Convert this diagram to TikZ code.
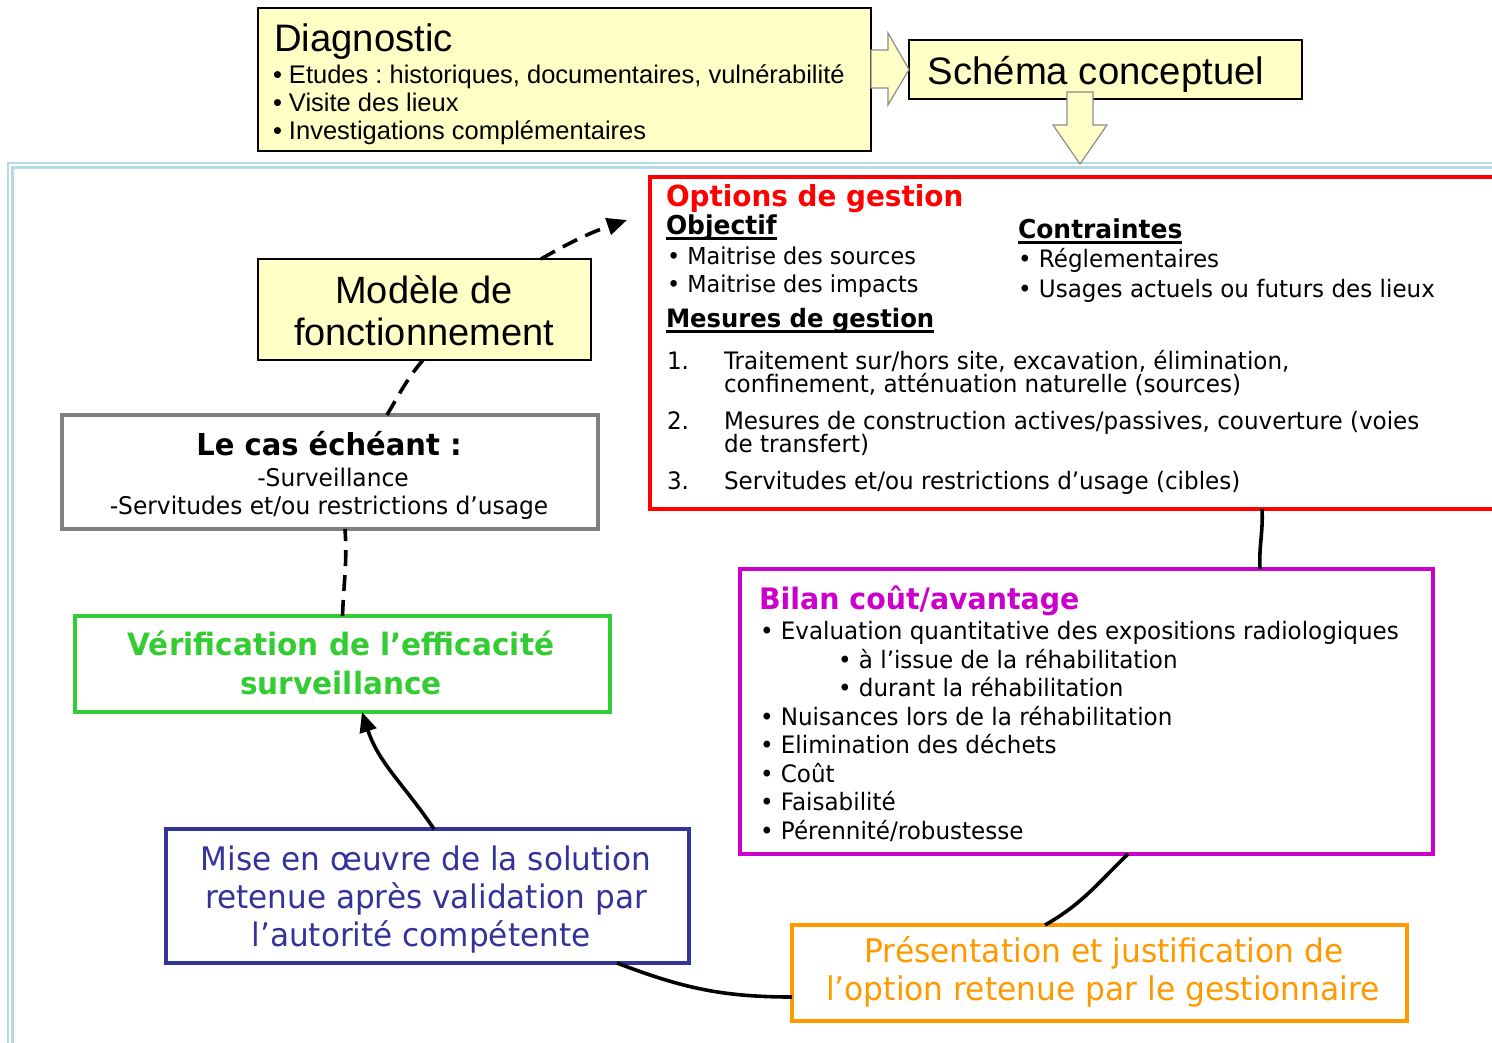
\documentclass[tikz,border=0pt]{standalone}
\usepackage{fontspec}
\setmainfont{Liberation Sans}
\newfontfamily\tah{DejaVu Sans}[FakeStretch=0.96]
\usetikzlibrary{arrows.meta}

\definecolor{paleyellow}{HTML}{FFFFC6}
\definecolor{framecol}{HTML}{B5DCE3}
\definecolor{optred}{HTML}{FF0000}
\definecolor{bilmag}{HTML}{CC00CC}
\definecolor{vergreen}{HTML}{33CC33}
\definecolor{miseblue}{HTML}{333399}
\definecolor{presorange}{HTML}{FF9900}
\definecolor{casgray}{HTML}{808080}
\definecolor{arrowgray}{HTML}{8C8C8C}

\newcommand\fsz[2]{\fontsize{#1}{#2}\selectfont}
% thick underline sitting just under the baseline
\newcommand\ulx[1]{\setbox0\hbox{#1}\rlap{\vrule height -2.5pt depth 5.5pt width \wd0}\box0}
\frenchspacing

\begin{document}
\begin{tikzpicture}[x=1pt,y=1pt,
  box/.style={rectangle, inner sep=0, outer sep=0, anchor=north west},
  ybox/.style={box, draw=black, line width=1.6, fill=paleyellow},
  cbox/.style={box, line width=4},
  txt/.style={inner sep=0, outer sep=0, anchor=base west},
  ctxt/.style={inner sep=0, outer sep=0, anchor=base},
  blockarrow/.style={fill=paleyellow, draw=arrowgray, line width=1.2, line join=miter},
  link/.style={line width=3.6, black},
  dlink/.style={link, dash pattern=on 16pt off 9pt},
  tahreg/.style={font=\tah\fsz{24}{29}},
  diagitem/.style={txt, font=\fsz{25.5}{29}},
]
\useasboundingbox (0,0) rectangle (1492,-1042);

% double light-blue frame
\draw[framecol, line width=2.2] (1500,-163) -| (8,-1050);
\draw[framecol, line width=2.2] (1500,-167.5) -| (12.5,-1050);

% ---- top: diagnostic and conceptual scheme ----
\node[ybox, minimum width=613, minimum height=143] (diag) at (258,-8) {};
\node[txt] (diagtitle) at (274,-51) {\fsz{38.3}{44}Diagnostic};
\node[diagitem] (diag1) at (273,-83) {• Etudes : historiques, documentaires, vulnérabilité};
\node[diagitem] (diag2) at (273,-111) {• Visite des lieux};
\node[diagitem] (diag3) at (273,-139) {• Investigations complémentaires};

\node[ybox, minimum width=393, minimum height=59] (schema) at (909,-40) {};
\node[ctxt] (schematext) at (1096,-84) {\fsz{38.3}{44}Schéma conceptuel};

\draw[blockarrow] (diag.east |- 0,-50) -- (888,-50) -- (888,-33) -- (schema.west) -- (888,-105) -- (888,-88) -- (diag.east |- 0,-88) -- cycle;
\draw[blockarrow] (1067,-92) -- (1067,-125) -- (1053,-125) -- (1080,-164) -- (1107,-125) -- (1093,-125) -- (1093,-92) -- cycle;

% ---- management options ----
\node[cbox, draw=optred, minimum width=860, minimum height=332] (opt) at (650,-177) {};
\node[txt, text=optred] (opttitle) at (666,-206) {\tah\bfseries\fsz{29}{35}Options de gestion};
\node[txt] (objh) at (666,-234) {\tah\bfseries\fsz{26}{32}\ulx{Objectif}};
\node[txt] (obj1) at (667,-264) {\tah\fsz{23.3}{29}• Maitrise des sources};
\node[txt] (obj2) at (667,-292) {\tah\fsz{23.3}{29}• Maitrise des impacts};
\node[txt] (mesh) at (666,-327) {\tah\bfseries\fsz{25.3}{32}\ulx{Mesures de gestion}};
\node[txt] (conh) at (1018,-238) {\tah\bfseries\fsz{26}{32}\ulx{Contraintes}};
\node[txt, tahreg] (con1) at (1018,-267) {• Réglementaires};
\node[txt, tahreg] (con2) at (1018,-297) {• Usages actuels ou futurs des lieux};
\node[txt, tahreg] (num1) at (667,-369) {1.};
\node[txt, tahreg] (mes1a) at (724,-369) {Traitement sur/hors site, excavation, élimination,};
\node[txt, tahreg] (mes1b) at (724,-392) {confinement, atténuation naturelle (sources)};
\node[txt, tahreg] (num2) at (667,-429) {2.};
\node[txt, tahreg] (mes2a) at (724,-429) {Mesures de construction actives/passives, couverture (voies};
\node[txt, tahreg] (mes2b) at (724,-452) {de transfert)};
\node[txt, tahreg] (num3) at (667,-489) {3.};
\node[txt, tahreg] (mes3) at (724,-489) {Servitudes et/ou restrictions d’usage (cibles)};

% ---- cost / benefit ----
\node[cbox, draw=bilmag, minimum width=693, minimum height=285] (bil) at (740,-569) {};
\node[txt, text=bilmag] (biltitle) at (759,-609) {\tah\bfseries\fsz{29.6}{35}Bilan coût/avantage};
\node[txt, tahreg] (bil1) at (760,-639) {• Evaluation quantitative des expositions radiologiques};
\node[txt, tahreg] (bil1a) at (838,-668) {• à l’issue de la réhabilitation};
\node[txt, tahreg] (bil1b) at (838,-696) {• durant la réhabilitation};
\node[txt, tahreg] (bil2) at (760,-725) {• Nuisances lors de la réhabilitation};
\node[txt, tahreg] (bil3) at (760,-753) {• Elimination des déchets};
\node[txt, tahreg] (bil4) at (760,-782) {• Coût};
\node[txt, tahreg] (bil5) at (760,-810) {• Faisabilité};
\node[txt, tahreg] (bil6) at (760,-839) {• Pérennité/robustesse};

% ---- presentation of the retained option ----
\node[cbox, draw=presorange, minimum width=615, minimum height=96] (pres) at (792,-925) {};
\node[ctxt, text=presorange] (pres1) at (1104,-962) {\tah\fsz{32.6}{38}Présentation et justification de};
\node[ctxt, text=presorange] (pres2) at (1103,-1000) {\tah\fsz{32.6}{38}l’option retenue par le gestionnaire};

% ---- implementation ----
\node[cbox, draw=miseblue, minimum width=523, minimum height=134] (mise) at (166,-829) {};
\node[ctxt, text=miseblue] (mise1) at (426,-870) {\tah\fsz{32.4}{38}Mise en œuvre de la solution};
\node[ctxt, text=miseblue] (mise2) at (426,-908) {\tah\fsz{32.4}{38}retenue après validation par};
\node[ctxt, text=miseblue] (mise3) at (421,-946) {\tah\fsz{32.4}{38}l’autorité compétente};

% ---- efficiency check ----
\node[cbox, draw=vergreen, minimum width=535, minimum height=96] (ver) at (75,-616) {};
\node[ctxt, text=vergreen] (ver1) at (341,-655) {\tah\bfseries\fsz{30.8}{36}Vérification de l’efficacité};
\node[ctxt, text=vergreen] (ver2) at (341,-694) {\tah\bfseries\fsz{30.8}{36}surveillance};

% ---- where applicable ----
\node[cbox, draw=casgray, minimum width=536, minimum height=114] (cas) at (62,-415) {};
\node[ctxt] (cas1) at (329,-455) {\tah\bfseries\fsz{30.2}{34}Le cas échéant :};
\node[ctxt] (cas2) at (333,-486) {\tah\fsz{24.3}{29}-Surveillance};
\node[ctxt] (cas3) at (329,-514) {\tah\fsz{24.3}{29}-Servitudes et/ou restrictions d’usage};

% ---- operating model ----
\node[ybox, minimum width=333, minimum height=101] (mod) at (258,-259) {};
\node[ctxt] (mod1) at (424,-303) {\fsz{38}{44}Modèle de};
\node[ctxt] (mod2) at (424,-345) {\fsz{38}{44}fonctionnement};

% ---- cycle connectors ----
\coordinate (loopend) at (627,-220);
\draw[link] ([xshift=182]opt.south) to[out=-87,in=93] ([xshift=173.5]bil.north);
\draw[link] ([xshift=41.5]bil.south) to[out=224,in=29.5] ([xshift=-54.5]pres.north);
\draw[link] ([yshift=-24]pres.west) to[out=180,in=-21] ([xshift=189.5]mise.south);
\draw[link, -{Triangle[length=20,width=17]}] ([xshift=6.5]mise.north) to[out=124,in=-72] ([xshift=19.5]ver.south);
\draw[dlink] (ver.north) to[out=88,in=-86] ([xshift=15]cas.south);
\draw[dlink] ([xshift=57]cas.north) to[out=59.5,in=230] ([xshift=-1.5]mod.south);
\draw[dlink, -{Triangle[length=20,width=17]}] ([xshift=116.5]mod.north) to[out=30,in=199] (loopend);
\end{tikzpicture}
\end{document}
